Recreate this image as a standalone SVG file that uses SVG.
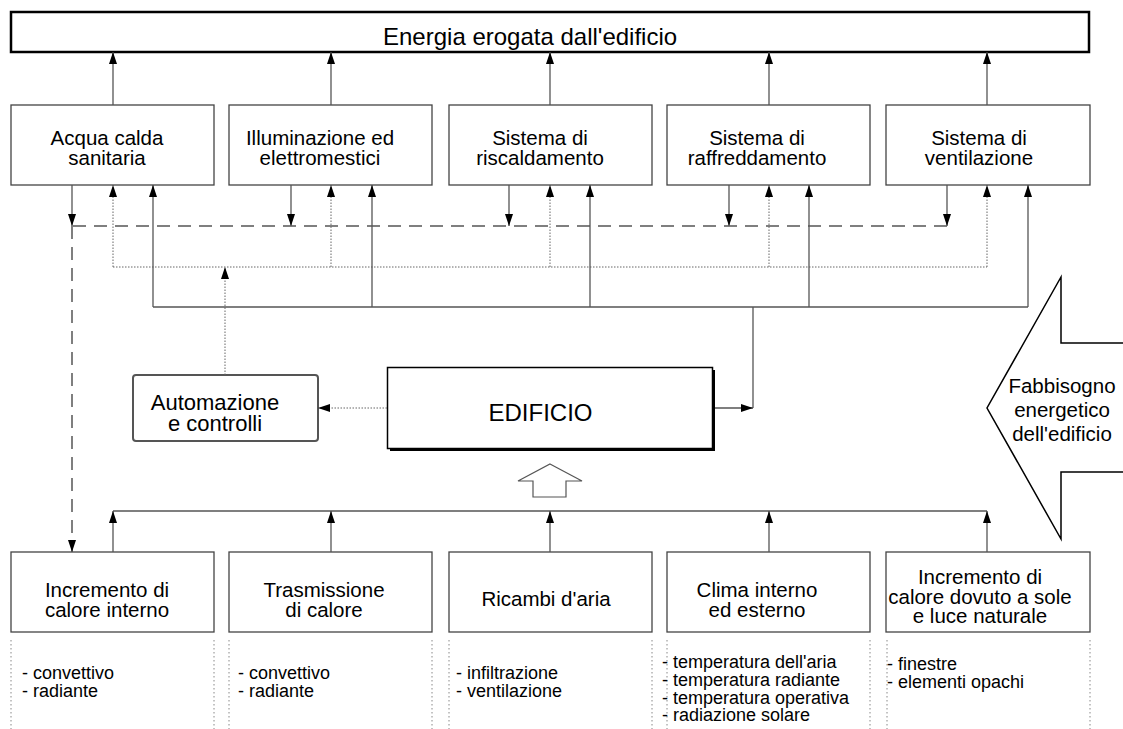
<svg xmlns="http://www.w3.org/2000/svg" width="1123" height="729" viewBox="0 0 1123 729">
<defs>
<style>
text{font-family:"Liberation Sans",Arial,sans-serif;fill:#000}
.t20{font-size:20.5px;text-anchor:middle}
.lbl{font-size:18px}
.box{fill:#fff;stroke:#444;stroke-width:1.3}
.ln{fill:none;stroke:#555;stroke-width:1.3}
.dash{fill:none;stroke:#555;stroke-width:1.5;stroke-dasharray:13 8}
.dot{fill:none;stroke:#666;stroke-width:1;stroke-dasharray:1.5 1.5}
.sep{fill:none;stroke:#888;stroke-width:1;stroke-dasharray:1.5 2.5}
</style>
<marker id="ah" markerUnits="userSpaceOnUse" markerWidth="12" markerHeight="8" refX="12" refY="4" orient="auto">
<path d="M0,0 L12,4 L0,8 z" fill="#000"/>
</marker>
</defs>
<rect width="1123" height="729" fill="#fff"/>

<g id="top">
<rect x="11" y="12" width="1078" height="40" fill="#fff" stroke="#000" stroke-width="2.5"/>
<text x="383" y="45" style="font-size:24px">Energia erogata dall'edificio</text>
</g>

<g id="acqua"><rect class="box" x="11" y="105" width="203" height="80"/>
<text class="t20" x="107" y="145">Acqua calda</text><text class="t20" x="107" y="165">sanitaria</text></g>
<g id="illuminazione"><rect class="box" x="229" y="105" width="203" height="80"/>
<text class="t20" x="320" y="145">Illuminazione ed</text><text class="t20" x="320" y="165">elettromestici</text></g>
<g id="riscaldamento"><rect class="box" x="449" y="105" width="203" height="80"/>
<text class="t20" x="540" y="145">Sistema di</text><text class="t20" x="540" y="165">riscaldamento</text></g>
<g id="raffreddamento"><rect class="box" x="667" y="105" width="203" height="80"/>
<text class="t20" x="757" y="145">Sistema di</text><text class="t20" x="757" y="165">raffreddamento</text></g>
<g id="ventilazione"><rect class="box" x="886" y="105" width="204" height="80"/>
<text class="t20" x="979" y="145">Sistema di</text><text class="t20" x="979" y="165">ventilazione</text></g>

<g id="automazione"><rect x="133" y="375" width="185" height="66" rx="3" fill="#fff" stroke="#555" stroke-width="2"/>
<text x="215" y="410" style="font-size:22px;text-anchor:middle">Automazione</text>
<text x="215" y="431" style="font-size:22px;text-anchor:middle">e controlli</text></g>

<g id="edificio">
<rect x="390" y="370" width="325" height="81" fill="#000"/>
<rect x="387.5" y="367.5" width="325" height="81" fill="#fff" stroke="#000" stroke-width="1.5"/>
<text x="540.5" y="421" style="font-size:24px;text-anchor:middle">EDIFICIO</text>
</g>

<g id="fabbisogno">
<polygon points="1130,343 1061,343 1061,277 987,408 1061,539 1061,472 1130,472" fill="#fff" stroke="#000" stroke-width="1.5"/>
<text class="t20" x="1062" y="393">Fabbisogno</text>
<text class="t20" x="1062" y="417">energetico</text>
<text class="t20" x="1062" y="441">dell'edificio</text>
</g>

<g id="incremento-interno"><rect class="box" x="11" y="552" width="203" height="80"/>
<text class="t20" x="107" y="597">Incremento di</text><text class="t20" x="107" y="617">calore interno</text></g>
<g id="trasmissione"><rect class="box" x="229" y="552" width="203" height="80"/>
<text class="t20" x="324" y="597">Trasmissione</text><text class="t20" x="324" y="617">di calore</text></g>
<g id="ricambi"><rect class="box" x="449" y="552" width="203" height="80"/>
<text class="t20" x="546" y="606">Ricambi d'aria</text></g>
<g id="clima"><rect class="box" x="667" y="552" width="203" height="80"/>
<text class="t20" x="757" y="597">Clima interno</text><text class="t20" x="757" y="617">ed esterno</text></g>
<g id="incremento-sole"><rect class="box" x="886" y="552" width="204" height="80"/>
<text class="t20" x="980" y="584">Incremento di</text><text class="t20" x="980" y="603.5">calore dovuto a sole</text><text class="t20" x="980" y="623">e luce naturale</text></g>

<g id="labels">
<path class="sep" d="M11 640V729M214 640V729M229 640V729M432 640V729M449 640V729M652 640V729M667 640V729M870 640V729M887 640V729M1090 640V729"/>
<text class="lbl" x="22" y="679">- convettivo</text><text class="lbl" x="22" y="697">- radiante</text>
<text class="lbl" x="238" y="679">- convettivo</text><text class="lbl" x="238" y="697">- radiante</text>
<text class="lbl" x="456" y="679">- infiltrazione</text><text class="lbl" x="456" y="697">- ventilazione</text>
<text class="lbl" x="662" y="667.5">- temperatura dell'aria</text><text class="lbl" x="662" y="685.5">- temperatura radiante</text>
<text class="lbl" x="662" y="703.5">- temperatura operativa</text><text class="lbl" x="662" y="721">- radiazione solare</text>
<text class="lbl" x="887" y="670">- finestre</text><text class="lbl" x="887" y="688">- elementi opachi</text>
</g>

<g id="connectors">
<path class="ln" marker-end="url(#ah)" d="M113 105V52"/>
<path class="ln" marker-end="url(#ah)" d="M331 105V52"/>
<path class="ln" marker-end="url(#ah)" d="M550 105V52"/>
<path class="ln" marker-end="url(#ah)" d="M769 105V52"/>
<path class="ln" marker-end="url(#ah)" d="M987 105V52"/>

<path class="ln" marker-end="url(#ah)" d="M72 185V226"/>
<path class="ln" marker-end="url(#ah)" d="M291 185V226"/>
<path class="ln" marker-end="url(#ah)" d="M509 185V226"/>
<path class="ln" marker-end="url(#ah)" d="M729 185V226"/>
<path class="ln" marker-end="url(#ah)" d="M947 185V226"/>
<path class="dash" d="M947 226H72"/>
<path class="dash" marker-end="url(#ah)" d="M72 226V552"/>

<path class="dot" d="M113 267H987"/>
<path class="dot" marker-end="url(#ah)" d="M113 267V185"/>
<path class="dot" marker-end="url(#ah)" d="M331 267V185"/>
<path class="dot" marker-end="url(#ah)" d="M550 267V185"/>
<path class="dot" marker-end="url(#ah)" d="M769 267V185"/>
<path class="dot" marker-end="url(#ah)" d="M987 267V185"/>
<path class="dot" marker-end="url(#ah)" d="M225 375V267"/>
<path class="dot" marker-end="url(#ah)" d="M387 408H318"/>

<path class="ln" d="M153 307H1028"/>
<path class="ln" marker-end="url(#ah)" d="M153 307V185"/>
<path class="ln" marker-end="url(#ah)" d="M372 307V185"/>
<path class="ln" marker-end="url(#ah)" d="M590 307V185"/>
<path class="ln" marker-end="url(#ah)" d="M809 307V185"/>
<path class="ln" marker-end="url(#ah)" d="M1028 307V185"/>
<path class="ln" d="M753 307V408"/>
<path class="ln" marker-end="url(#ah)" d="M715 408H753"/>

<polygon points="550,464 582,481 566,481 566,497 533,497 533,481 518,481" fill="#fff" stroke="#555" stroke-width="1.2"/>

<path class="ln" d="M113 511H987"/>
<path class="ln" marker-end="url(#ah)" d="M113 552V511"/>
<path class="ln" marker-end="url(#ah)" d="M331 552V511"/>
<path class="ln" marker-end="url(#ah)" d="M550 552V511"/>
<path class="ln" marker-end="url(#ah)" d="M769 552V511"/>
<path class="ln" marker-end="url(#ah)" d="M987 552V511"/>
</g>
</svg>
